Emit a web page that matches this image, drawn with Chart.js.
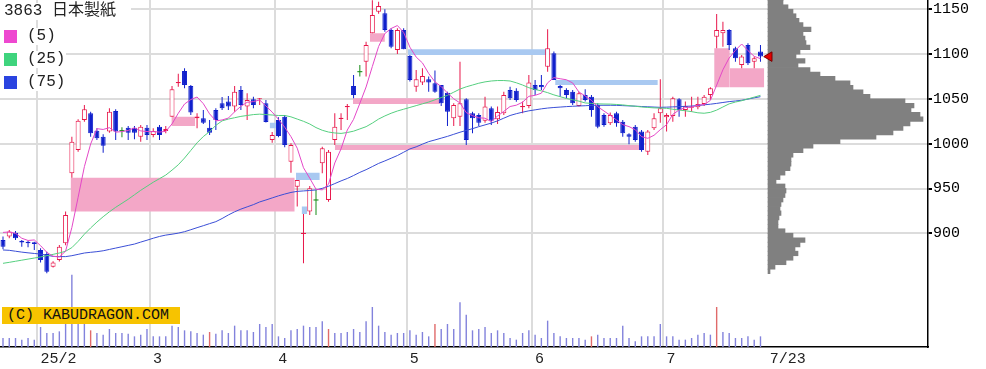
<!DOCTYPE html>
<html><head><meta charset="utf-8">
<script src="https://cdn.jsdelivr.net/npm/chart.js@4.4.1/dist/chart.umd.min.js"></script>
<style>
html,body{margin:0;padding:0;background:#fff;}
#wrap{position:relative;width:986px;height:369px;overflow:hidden;background:#fff;}
#main{position:absolute;left:0;top:0;}
.rowbg{position:absolute;left:0;background:#fff;height:17px;}
.lgt{position:absolute;font:16px "Liberation Mono","Noto Sans CJK JP",monospace;line-height:17px;color:#222;white-space:nowrap;}
.sw{position:absolute;left:4px;width:13px;height:13px;}
#copy{position:absolute;left:2px;top:307px;width:178px;height:17px;background:#f7c300;font:15px "Liberation Mono",monospace;line-height:17px;color:#111;padding-left:5px;box-sizing:border-box;white-space:nowrap;}
</style></head>
<body>
<div id="wrap">
<canvas id="main" width="986" height="369"></canvas>
<div id="legend"></div>
<div id="copy">(C) KABUDRAGON.COM</div>
</div>
<script>
// ---- data ----
const stockTitle = '3863 日本製紙';
const maPeriods = [5, 25, 75];
const xTickPos = [5.5, 23.5, 43.5, 64.5, 84.5, 105.5, 122];
const xTickLabels = ['25/2', '3', '4', '5', '6', '7', '7/23'];
const priceTicks = [900, 950, 1000, 1050, 1100, 1150];

const opens = [892.6,896.3,900.7,891.8,890.7,890.0,881.4,876.9,862.8,870.2,
888.8,967.0,993.0,1026.5,1033.9,1014.6,1007.9,1013.5,1036.5,1014.6,
1017.9,1017.9,1007.9,1017.9,1009.7,1019.0,1014.2,1030.2,1067.4,1081.2,
1064.4,1028.5,1028.3,1017.9,1037.6,1045.1,1047.0,1041.4,1060.0,1041.4,
1049.6,1049.5,1045.1,1004.2,1026.5,1030.2,980.0,952.1,899.3,924.2,
937.2,978.1,937.2,1004.2,1027.6,1040.7,1064.4,1080.4,1091.6,1123.2,
1147.4,1145.5,1126.9,1104.6,1126.9,1097.9,1063.7,1068.2,1071.9,1067.4,
1065.6,1057.0,1028.3,1030.2,1049.6,1033.9,1032.1,1025.7,1039.5,1027.2,
1033.9,1060.0,1059.2,1040.7,1042.1,1065.6,1065.6,1086.0,1100.9,1064.4,
1060.0,1058.1,1042.1,1054.4,1052.5,1043.3,1032.1,1022.8,1033.9,1024.6,
1010.5,1019.0,1013.5,991.1,1017.2,1033.9,1029.5,1030.9,1049.6,1037.6,
1040.0,1040.7,1044.4,1054.4,1119.5,1123.2,1126.9,1106.5,1087.9,1110.2,
1091.6,1102.8];
const highs = [896.3,903.7,902.6,892.6,891.5,890.7,883.3,879.5,868.8,887.0,
924.2,1007.9,1027.2,1043.2,1035.8,1017.2,1010.5,1039.5,1038.4,1018.3,
1019.8,1019.8,1020.9,1020.9,1017.2,1020.9,1019.8,1064.4,1078.0,1084.2,
1065.6,1033.9,1037.6,1026.5,1039.5,1052.0,1053.3,1064.4,1064.4,1056.3,
1052.5,1051.0,1048.8,1013.0,1029.5,1032.1,1000.4,959.5,921.6,952.8,
948.4,996.7,993.0,1033.9,1033.9,1044.4,1076.7,1087.9,1113.9,1160.0,
1158.5,1150.0,1128.8,1128.8,1128.8,1099.0,1082.3,1084.2,1074.9,1081.6,
1065.6,1058.1,1045.1,1091.6,1050.7,1035.8,1033.9,1052.5,1041.4,1041.4,
1058.1,1063.7,1061.8,1047.0,1076.7,1071.1,1076.7,1127.7,1102.8,1065.6,
1061.8,1060.0,1058.1,1060.7,1054.4,1045.1,1033.9,1034.7,1035.8,1026.5,
1011.6,1020.9,1015.3,1015.3,1033.9,1071.9,1033.9,1052.5,1050.7,1047.0,
1052.5,1052.5,1054.4,1062.9,1144.8,1136.2,1127.7,1108.3,1099.0,1112.1,
1097.2,1110.2];
const lows = [882.1,894.4,892.6,885.1,884.4,881.4,867.3,855.4,861.7,868.4,
886.6,962.1,991.1,1024.6,1007.9,1004.2,990.0,1012.3,1004.2,1007.1,
1004.2,1004.9,1002.3,1004.2,1007.1,1004.2,1011.6,1030.2,1063.5,1061.8,
1032.1,1017.2,1022.0,1009.7,1015.3,1037.6,1037.6,1035.8,1037.6,1026.5,
1039.5,1043.3,1023.6,1001.2,1007.1,996.0,967.7,929.8,866.5,920.5,
920.5,967.0,935.3,998.6,1015.3,1026.5,1050.7,1074.9,1074.9,1123.2,
1145.1,1125.1,1106.5,1100.2,1105.4,1069.3,1058.1,1065.6,1058.1,1057.0,
1042.1,1019.8,1019.8,1019.8,998.6,1011.6,1019.8,1023.5,1020.9,1022.0,
1032.1,1048.8,1046.9,1033.9,1039.5,1054.4,1060.0,1080.4,1071.1,1052.5,
1050.7,1043.3,1041.4,1047.0,1030.2,1017.2,1019.0,1020.9,1019.0,1007.9,
999.5,1002.3,991.1,987.4,1015.3,1023.5,1013.5,1024.6,1030.2,1030.2,
1035.8,1038.5,1042.1,1048.8,1106.5,1108.3,1104.6,1091.6,1084.2,1087.9,
1084.2,1091.6];
const closes = [885.1,901.9,894.4,889.6,888.9,888.0,870.2,857.2,867.3,885.1,
920.5,1002.3,1025.7,1038.4,1011.6,1006.0,997.8,1035.8,1013.5,1014.6,
1012.3,1012.3,1019.0,1009.7,1014.2,1009.7,1016.4,1060.7,1069.0,1065.6,
1034.7,1030.5,1023.5,1012.3,1026.5,1039.5,1041.4,1058.1,1043.3,1048.8,
1043.3,1050.7,1024.2,1009.7,1008.6,998.6,998.6,959.5,900.7,950.2,
937.2,994.9,991.1,1019.0,1029.1,1042.2,1054.4,1080.4,1110.2,1143.7,
1153.7,1126.9,1108.3,1126.9,1105.4,1071.1,1071.9,1075.6,1068.2,1058.1,
1045.1,1035.8,1043.2,1045.1,1004.2,1028.3,1023.5,1041.4,1025.7,1035.4,
1054.4,1050.7,1048.8,1042.2,1068.2,1060.0,1063.0,1106.5,1071.1,1061.8,
1054.4,1045.1,1056.3,1048.8,1037.6,1019.0,1020.9,1032.1,1022.8,1011.6,
1007.9,1004.2,993.0,1013.5,1028.3,1039.5,1032.1,1050.7,1037.6,1042.1,
1041.4,1044.4,1052.5,1061.8,1126.9,1126.9,1110.2,1095.3,1097.2,1089.7,
1095.3,1097.2];
const volumes = [270,270,270,220,270,220,600,420,420,470,
690,2170,690,690,500,420,370,540,420,420,
400,320,370,540,320,320,320,640,600,500,
470,420,370,450,400,500,420,640,500,500,
450,690,600,690,320,270,500,540,640,600,
600,770,540,420,420,450,540,450,770,1200,
640,450,370,420,420,500,370,450,320,690,
540,690,540,1340,970,500,540,600,420,500,
420,270,220,420,500,370,270,790,420,320,
270,270,270,220,320,370,270,270,270,640,
270,170,320,320,320,690,320,320,220,220,
270,370,420,370,1200,450,420,270,270,320,
220,320];
const volumeRedDays = [14, 33, 52, 69, 94, 114];
const ma5 = [901.0,901.5,900.0,894.5,892.0,892.6,886.2,878.8,874.3,873.6,
880.1,906.5,940.2,974.4,999.7,1016.8,1015.9,1017.9,1012.9,1013.5,
1014.8,1017.7,1014.3,1013.6,1013.5,1013.0,1013.8,1022.1,1034.0,1044.3,
1049.3,1052.1,1044.7,1033.3,1025.5,1026.5,1028.6,1035.6,1041.8,1046.2,
1047.0,1048.8,1042.1,1035.3,1027.3,1018.4,1007.9,995.0,973.2,961.5,
949.2,948.5,954.8,978.5,994.3,1015.3,1027.2,1045.0,1063.3,1086.2,
1108.5,1123.0,1128.6,1131.9,1124.2,1107.7,1096.7,1090.2,1078.4,1069.0,
1063.8,1056.6,1050.1,1045.5,1034.7,1031.3,1028.9,1028.5,1024.6,1030.9,
1036.1,1041.5,1043.0,1046.3,1052.9,1054.0,1056.4,1068.0,1073.8,1072.5,
1071.4,1067.8,1057.7,1053.3,1048.4,1041.4,1036.5,1031.7,1026.5,1021.3,
1019.1,1015.7,1007.9,1006.0,1009.4,1015.7,1021.3,1032.8,1037.6,1040.4,
1040.8,1043.2,1043.6,1048.4,1065.4,1082.5,1095.7,1104.2,1111.3,1103.9,
1097.5,1094.9];
const ma25 = [866.5,867.6,868.8,870,871.2,872.4,873.6,875,876.5,878,
880,884,891,899,906,912.5,918.5,924,929,933.5,
938,943,948,952.5,957,961,965,970.5,976.5,984,
992.5,1001,1008,1013.5,1020.5,1025.5,1027.5,1029,1030.5,1031.5,
1032.5,1033,1032.5,1032,1031.5,1031.5,1030,1027.5,1025,1022,
1018,1015,1013,1012,1011.5,1012.5,1014,1016.5,1019,1023,
1027.5,1031,1034,1036.5,1038.5,1040.5,1042.5,1044.5,1046.5,1049,
1051.5,1054,1057.5,1061,1063.5,1065.5,1067.5,1069,1070,1070.5,
1070.5,1070,1068,1065.5,1062.5,1060.5,1059,1057,1054.5,1052.5,
1050.5,1049,1047.5,1045.5,1045,1044.5,1044.3,1044.2,1043.8,1043.3,
1042.5,1041.8,1041,1040.5,1040,1039.8,1039.5,1038.5,1037.5,1036.8,
1035.8,1034.5,1034,1035,1037.5,1041,1044.5,1046.5,1048,1050,
1052,1054];
const ma75 = [881.4,881,880,879,878.2,877.5,876.8,875.5,874.3,874,
874,875,876.5,878,878.8,879.5,880.5,882,883.5,885,
886.5,888,890.2,892.3,894.5,896.5,898,899,900.2,901.8,
904,906.3,908.5,910.8,913,916.5,920.5,924,927,929.5,
932,935,937.2,939.5,941.8,943.8,945.6,946.8,947.3,947.8,
948.4,950.2,952.5,955.5,958.5,961.2,964.5,968,971,974.5,
978,980.8,983.8,986.8,990.5,994.2,996.5,999.5,1002.3,1004.2,
1006.2,1008.2,1010.5,1012.8,1014.8,1016.8,1019,1021,1023,1025.5,
1028.5,1031.5,1033.5,1035.2,1036.7,1037.8,1038.9,1039.8,1040.4,1040.9,
1041.4,1041.8,1042.1,1042.4,1042.8,1042.9,1042.9,1042.9,1042.8,1042.5,
1042.2,1041.9,1041.5,1041.2,1040.9,1040.6,1040.8,1041.1,1041.4,1041.7,
1042,1042.6,1043.4,1044.1,1045,1046,1047,1047.7,1048.5,1049.8,
1051.2,1052.5];

// price gaps (window boxes): start/end candle position, low/high price
const gapStart = [10.8, 26.9, 42.6, 46.8, 47.7, 53.0, 55.9, 58.6, 64.7, 88.2, 113.6, 116.1];
const gapEnd   = [46.6, 30.7, 43.6, 50.6, 48.6, 101.8, 69.8, 61.0, 86.9, 104.6, 116.1, 121.6];
const gapLow   = [924.2, 1019.8, 1017.2, 959.5, 921.6, 993.0, 1044.4, 1113.9, 1099.0, 1065.6, 1062.9, 1062.9];
const gapHigh  = [962.1, 1030.2, 1023.5, 967.7, 929.8, 998.6, 1050.7, 1123.2, 1105.4, 1071.1, 1106.5, 1084.2];
const gapKind  = ['up','up','down','down','down','up','up','up','down','down','up','up'];

// volume-by-price profile (5-yen bands)
const profilePrice = [1162.5,1157.5,1152.5,1147.5,1142.5,1137.5,1132.5,1127.5,1122.5,1117.5,1112.5,
1107.5,1102.5,1097.5,1092.5,1087.5,1082.5,1077.5,1072.5,1067.5,1062.5,
1057.5,1052.5,1047.5,1042.5,1037.5,1032.5,1027.5,1022.5,1017.5,1012.5,
1007.5,1002.5,997.5,992.5,987.5,982.5,977.5,972.5,967.5,962.5,
957.5,952.5,947.5,942.5,937.5,932.5,927.5,922.5,917.5,912.5,
907.5,902.5,897.5,892.5,887.5,882.5,877.5,872.5,867.5,862.5,857.5];
const profileVolume = [150,150,200,250,280,310,350,430,350,370,380,
420,320,280,370,300,420,520,670,820,850,
950,1020,1370,1460,1430,1520,1550,1420,1350,1250,
1080,720,450,350,250,230,230,220,170,120,
80,170,180,170,150,130,120,130,110,100,
100,170,250,370,320,270,300,250,180,70,20];

// ---- styles ----
const UP = '#e8174b', DOWN = '#1020cc', EVEN = '#178c17';
const MA_COLORS = ['#e448c8', '#55cf7f', '#3a4ed6'];
const SW_COLORS = ['#ee48d0', '#3fd47d', '#2a44e0'];
const PINK = '#f3a7c7', LBLUE = '#a9c9f1';
const GRID = '#dcdcdc';
const VOL = '#8282dc', VOLRED = '#e06a6a';
const PRICE_MIN = 773.1, PRICE_MAX = 1160.4;
const X_MIN = -0.479, X_MAX = 147.76;

// legend (HTML text)
(function () {
  const lg = document.getElementById('legend');
  let html = '<div class="rowbg" style="top:3px;width:131px"></div>' +
    '<div class="lgt" style="left:4px;top:3px">' + stockTitle + '</div>';
  maPeriods.forEach((p, k) => {
    const top = 28 + k * 23;
    html += '<div class="rowbg" style="top:' + top + 'px;width:66px"></div>' +
      '<div class="sw" style="top:' + (top + 2) + 'px;background:' + SW_COLORS[k] + '"></div>' +
      '<div class="lgt" style="left:27px;top:' + top + 'px">(' + p + ')</div>';
  });
  lg.innerHTML = html;
})();

Chart.defaults.font.family = "'Liberation Mono', monospace";

const N = closes.length;
const idx = closes.map((_, i) => i);
const dir = idx.map(i => closes[i] > opens[i] ? 1 : (closes[i] < opens[i] ? -1 : 0));
const candleColor = dir.map(d => d > 0 ? UP : (d < 0 ? DOWN : EVEN));

const datasets = [];

// gap boxes
gapStart.forEach((s, k) => {
  datasets.push({
    type: 'line',
    data: [{x: s, y: gapHigh[k]}, {x: gapEnd[k], y: gapHigh[k]}],
    fill: {value: gapLow[k]},
    backgroundColor: gapKind[k] === 'up' ? PINK : LBLUE,
    borderColor: 'rgba(0,0,0,0)', borderWidth: 0, pointRadius: 0,
    yAxisID: 'y', order: 40
  });
});

// volume
datasets.push({
  type: 'bar', yAxisID: 'yv',
  data: idx.map(i => ({x: i, y: volumes[i]})),
  backgroundColor: idx.map(i => volumeRedDays.includes(i) ? VOLRED : VOL),
  barThickness: 1.4, grouped: false, inflateAmount: 0, order: 35
});

// volume profile (horizontal bars)
datasets.push({
  type: 'bar', indexAxis: 'y', xAxisID: 'xp', yAxisID: 'y',
  data: profilePrice.map((p, k) => ({x: profileVolume[k], y: p})),
  backgroundColor: '#808080', borderWidth: 0,
  barThickness: 4.6, grouped: false, order: 30
});

// wicks
datasets.push({
  type: 'bar', yAxisID: 'y',
  data: idx.map(i => ({x: i, y: [lows[i], highs[i]]})),
  backgroundColor: candleColor,
  barThickness: 1, grouped: false, inflateAmount: 0, order: 20
});

// bodies
datasets.push({
  type: 'bar', yAxisID: 'y',
  data: idx.map(i => ({x: i, y: dir[i] === 0 ? [opens[i] - 0.6, opens[i] + 0.6] : [opens[i], closes[i]]})),
  backgroundColor: dir.map((d, i) => d > 0 ? '#ffffff' : candleColor[i]),
  borderColor: candleColor,
  borderWidth: dir.map(d => d === 0 ? 0 : 1),
  borderSkipped: false,
  barThickness: 5, grouped: false, inflateAmount: 0, order: 19
});

// moving averages
[ma75, ma25, ma5].forEach((arr, k) => {
  const ci = 2 - k;
  datasets.push({
    type: 'line', yAxisID: 'y',
    data: idx.map(i => ({x: i, y: arr[i]})),
    borderColor: MA_COLORS[ci], borderWidth: 1, pointRadius: 0,
    tension: 0, fill: false, order: 5 - k
  });
});

// last price marker
datasets.push({
  type: 'line', yAxisID: 'y', showLine: false,
  data: [{x: N + 0.4, y: closes[N - 1]}],
  pointStyle: 'triangle', pointRotation: -90, pointRadius: 5.5,
  pointBackgroundColor: '#e50000', pointBorderColor: '#7a0000', pointBorderWidth: 1,
  order: 0
});

new Chart(document.getElementById('main'), {
  type: 'bar',
  data: {datasets},
  options: {
    responsive: false, animation: false, events: [],
    layout: {padding: 0, autoPadding: false},
    plugins: {legend: {display: false}, tooltip: {enabled: false}, title: {display: false}},
    scales: {
      x: {
        type: 'linear', position: 'bottom', min: X_MIN, max: X_MAX, offset: false,
        grid: {offset: false, lineWidth: 2, drawTicks: false,
          color: ctx => ctx.index === xTickPos.length - 1 ? 'rgba(0,0,0,0)' : GRID},
        border: {display: true, color: '#000', width: 1.5},
        ticks: {autoSkip: false, maxRotation: 0, minRotation: 0, align: 'start', labelOffset: 3,
          padding: 3, color: '#222', font: {size: 15},
          callback: (v, i) => xTickLabels[i]},
        afterBuildTicks: s => { s.ticks = xTickPos.map(v => ({value: v})); },
        afterFit: s => { s.height = 22; s.paddingLeft = 0; s.paddingRight = 0; }
      },
      xp: {type: 'linear', axis: 'x', display: false, offset: false, grid: {offset: false}, min: -7680, max: 1600},
      y: {
        type: 'linear', position: 'right', min: PRICE_MIN, max: PRICE_MAX, offset: false,
        grid: {offset: false, color: GRID, lineWidth: 2, drawTicks: true, tickLength: 4, tickColor: '#000'},
        border: {display: true, color: '#000', width: 1.5},
        ticks: {color: '#000', padding: 1, font: {size: 15}, callback: v => String(v)},
        afterBuildTicks: s => { s.ticks = priceTicks.map(v => ({value: v})); },
        afterFit: s => { s.width = 58; s.paddingTop = 0; s.paddingBottom = 0; }
      },
      yv: {type: 'linear', display: false, offset: false, min: 0, max: 10410}
    }
  }
});
</script>
</body></html>
